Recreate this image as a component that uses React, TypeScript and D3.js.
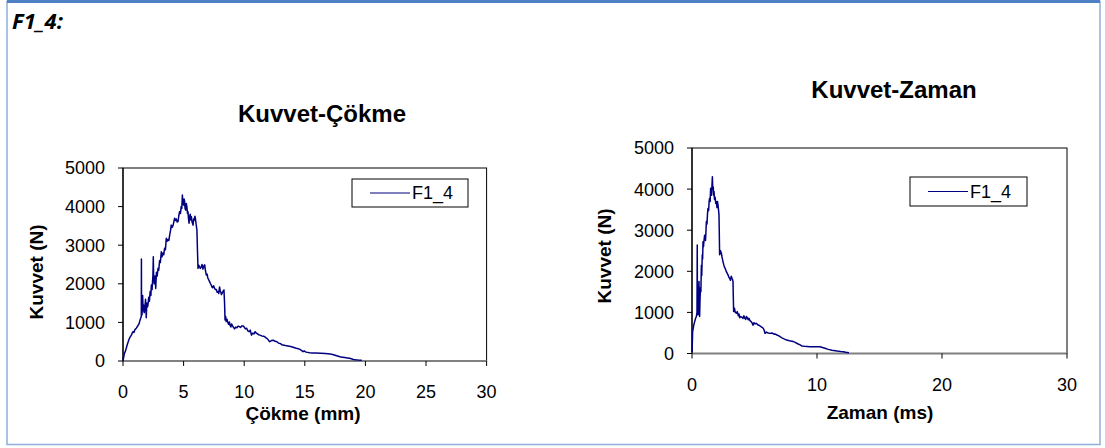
import React from 'react';
import * as d3 from 'd3';

// Kuvvet-Çökme (displacement mm, force N)
const cokmeMm = [0, 0.1, 0.2, 0.27, 0.35, 0.45, 0.55, 0.69, 0.75, 0.83, 0.9, 1.0, 1.1, 1.2, 1.25, 1.32, 1.37, 1.45, 1.51, 1.52, 1.53, 1.57, 1.62, 1.66, 1.7, 1.75, 1.8, 1.86, 1.92, 1.96, 2.02, 2.06, 2.12, 2.18, 2.24, 2.3, 2.34, 2.4, 2.47, 2.5, 2.53, 2.58, 2.64, 2.7, 2.76, 2.82, 2.89, 2.95, 3.02, 3.08, 3.16, 3.22, 3.3, 3.36, 3.43, 3.5, 3.57, 3.63, 3.7, 3.78, 3.85, 3.92, 3.98, 4.05, 4.12, 4.19, 4.26, 4.33, 4.4, 4.47, 4.54, 4.6, 4.67, 4.74, 4.8, 4.85, 4.9, 4.94, 5.0, 5.04, 5.08, 5.12, 5.17, 5.22, 5.27, 5.32, 5.36, 5.4, 5.45, 5.5, 5.55, 5.6, 5.64, 5.7, 5.78, 5.83, 5.88, 5.93, 5.97, 6.03, 6.1, 6.15, 6.19, 6.25, 6.3, 6.38, 6.46, 6.52, 6.6, 6.67, 6.74, 6.8, 6.87, 6.94, 7.0, 7.08, 7.15, 7.22, 7.28, 7.34, 7.4, 7.48, 7.56, 7.62, 7.7, 7.77, 7.84, 7.9, 7.97, 8.03, 8.08, 8.12, 8.17, 8.25, 8.33, 8.38, 8.42, 8.47, 8.52, 8.58, 8.65, 8.72, 8.78, 8.83, 8.9, 8.96, 9.05, 9.12, 9.2, 9.3, 9.4, 9.5, 9.6, 9.7, 9.8, 9.93, 10.0, 10.1, 10.2, 10.3, 10.4, 10.5, 10.6, 10.7, 10.8, 10.9, 11.0, 11.1, 11.2, 11.3, 11.45, 11.6, 11.7, 11.8, 11.9, 12.0, 12.1, 12.25, 12.4, 12.55, 12.7, 12.85, 13.0, 13.1, 13.2, 13.4, 13.6, 13.75, 13.9, 14.1, 14.3, 14.45, 14.6, 14.75, 14.85, 14.95, 15.1, 15.4, 15.6, 15.9, 16.3, 16.7, 17.1, 17.3, 17.5, 17.7, 17.9, 18.1, 18.3, 18.5, 18.7, 18.9, 19.0, 19.2, 19.4, 19.7];
const cokmeKuvvet = [0, 180, 260, 330, 420, 520, 600, 670, 720, 760, 740, 820, 850, 900, 930, 960, 1020, 1100, 1150, 2640, 1400, 1200, 1700, 1300, 1450, 1250, 1350, 1600, 1120, 1500, 1400, 1450, 1650, 1550, 1800, 1700, 1970, 1850, 2230, 2700, 2150, 2000, 2200, 1880, 2300, 2200, 2400, 2350, 2600, 2550, 2830, 2700, 2800, 2750, 2920, 2880, 3180, 3100, 3150, 3120, 3260, 3380, 3520, 3460, 3500, 3600, 3700, 3640, 3680, 3600, 3610, 3750, 3870, 3820, 4000, 3950, 4300, 4100, 4040, 4200, 4150, 3950, 3910, 4080, 4000, 3820, 3870, 3700, 3570, 3750, 3800, 3650, 3740, 3600, 3520, 3680, 3650, 3750, 3700, 3550, 3390, 2800, 2400, 2480, 2450, 2400, 2440, 2500, 2380, 2460, 2490, 2350, 2230, 2250, 2150, 2100, 2050, 2000, 1970, 1920, 1900, 1950, 1880, 1850, 1850, 1780, 1800, 1750, 1920, 1800, 1780, 1720, 1750, 1800, 1840, 1500, 1060, 1150, 1020, 1080, 1000, 950, 1010, 930, 880, 960, 900, 870, 830, 880, 860, 905, 890, 870, 910, 905, 880, 830, 850, 780, 760, 800, 670, 720, 700, 760, 720, 700, 680, 670, 650, 640, 630, 600, 580, 540, 500, 530, 540, 510, 500, 460, 450, 420, 415, 400, 390, 380, 370, 350, 330, 320, 300, 270, 240, 260, 230, 215, 210, 205, 200, 195, 180, 170, 150, 130, 110, 100, 90, 80, 70, 50, 40, 30, 25, 20];

// Kuvvet-Zaman (time ms, force N)
const zamanMs = [0, 0.03, 0.05, 0.1, 0.15, 0.21, 0.28, 0.35, 0.4, 0.42, 0.43, 0.46, 0.48, 0.52, 0.56, 0.58, 0.61, 0.64, 0.68, 0.71, 0.75, 0.78, 0.82, 0.85, 0.88, 0.92, 0.96, 1.01, 1.05, 1.08, 1.12, 1.15, 1.2, 1.24, 1.28, 1.33, 1.37, 1.41, 1.45, 1.49, 1.52, 1.56, 1.6, 1.63, 1.66, 1.7, 1.73, 1.76, 1.8, 1.85, 1.9, 1.95, 2.0, 2.04, 2.08, 2.12, 2.16, 2.19, 2.21, 2.28, 2.35, 2.4, 2.48, 2.55, 2.6, 2.68, 2.75, 2.82, 2.9, 2.96, 3.01, 3.08, 3.14, 3.2, 3.25, 3.28, 3.31, 3.33, 3.4, 3.46, 3.55, 3.62, 3.7, 3.76, 3.81, 3.9, 4.0, 4.08, 4.15, 4.22, 4.3, 4.35, 4.42, 4.5, 4.55, 4.61, 4.7, 4.78, 4.88, 4.95, 5.05, 5.15, 5.25, 5.4, 5.55, 5.7, 5.78, 5.84, 5.95, 6.1, 6.24, 6.4, 6.55, 6.64, 6.8, 6.95, 7.04, 7.2, 7.4, 7.57, 7.8, 8.0, 8.1, 8.25, 8.38, 8.5, 8.65, 8.78, 9.0, 9.2, 9.44, 9.8, 10.24, 10.5, 10.7, 10.9, 11.2, 11.6, 11.9, 12.1, 12.3, 12.56];
const zamanKuvvet = [40, 300, 530, 620, 700, 770, 850, 900, 1000, 2640, 1500, 1100, 940, 1300, 1750, 1200, 900, 1300, 1600, 1500, 2150, 1900, 2400, 2300, 2720, 2600, 2750, 2880, 2800, 2750, 3000, 3210, 3150, 3400, 3530, 3480, 3700, 3780, 3700, 4020, 3900, 3850, 4100, 4300, 4000, 4050, 3850, 3940, 3750, 3800, 3650, 3690, 3550, 3700, 3610, 3500, 3370, 2800, 2400, 2500, 2440, 2350, 2230, 2150, 2100, 2050, 1990, 1950, 1900, 1850, 1830, 1780, 1880, 1830, 1800, 1750, 1300, 1020, 1100, 1000, 980, 1020, 920, 960, 870, 900, 880, 855, 920, 860, 830, 900, 870, 820, 860, 815, 780, 760, 690, 750, 720, 735, 700, 680, 650, 615, 560, 490, 520, 500, 490, 500, 470, 475, 450, 430, 410, 380, 350, 330, 310, 300, 290, 270, 250, 230, 210, 185, 175, 170, 165, 165, 165, 140, 120, 100, 80, 60, 50, 45, 30, 20];

const yTicks = [0, 1000, 2000, 3000, 4000, 5000];
const cokmeTicks = [0, 5, 10, 15, 20, 25, 30];
const zamanTicks = [0, 10, 20, 30];
const seriesName = 'F1_4';

const FONT = '"Liberation Sans", Arial, sans-serif';
const LINE = '#000080';

type ChartProps = {
  xs: number[];
  ys: number[];
  xTicks: number[];
  left: number;
  right: number;
  top: number;
  bottom: number;
  title: string;
  titleX: number;
  titleY: number;
  xLabel: string;
  xLabelX: number;
  xLabelY: number;
  yLabelX: number;
  yLabelY: number;
  xTickY: number;
  yTickGap: number;
  legend: { x: number; y: number; w: number; h: number };
};

function Chart(p: ChartProps) {
  const x = d3.scaleLinear().domain([0, 30]).range([p.left, p.right]);
  const y = d3.scaleLinear().domain([0, 5000]).range([p.bottom, p.top]);
  const pts: [number, number][] = p.xs.map((v, i) => [v, p.ys[i]]);
  const line = d3.line<[number, number]>().x(d => x(d[0])).y(d => y(d[1]));

  return (
    <g fontFamily={FONT}>
      <text x={p.titleX} y={p.titleY} textAnchor="middle" fontSize={24} fontWeight="bold">{p.title}</text>
      {/* plot frame */}
      <rect x={p.left} y={p.top} width={p.right - p.left} height={p.bottom - p.top} fill="none" stroke="#000" strokeWidth={1} />
      <line x1={p.left} x2={p.right} y1={p.bottom} y2={p.bottom} stroke="#808080" strokeWidth={2} />
      <line x1={p.left} x2={p.left} y1={p.top} y2={p.bottom} stroke="#000" strokeWidth={1.2} />
      {yTicks.map(t => (
        <g key={'y' + t}>
          <line x1={p.left - 5} x2={p.left} y1={y(t)} y2={y(t)} stroke="#000" />
          <text x={p.left - p.yTickGap} y={y(t)} dy="0.36em" textAnchor="end" fontSize={18}>{t}</text>
        </g>
      ))}
      {p.xTicks.map(t => (
        <g key={'x' + t}>
          <line x1={x(t)} x2={x(t)} y1={p.bottom} y2={p.bottom + 5} stroke="#000" />
          <text x={x(t)} y={p.xTickY} dy="0.36em" textAnchor="middle" fontSize={18}>{t}</text>
        </g>
      ))}
      <path d={line(pts) || ''} fill="none" stroke={LINE} strokeWidth={1.5} strokeLinejoin="round" />
      <text x={p.xLabelX} y={p.xLabelY} textAnchor="middle" fontSize={19} fontWeight="bold">{p.xLabel}</text>
      <text transform={`translate(${p.yLabelX},${p.yLabelY}) rotate(-90)`} textAnchor="middle" dy="0.36em" fontSize={19} fontWeight="bold">Kuvvet (N)</text>
      <g>
        <rect x={p.legend.x} y={p.legend.y} width={p.legend.w} height={p.legend.h} fill="#fff" stroke="#000" />
        <line x1={p.legend.x + 18} x2={p.legend.x + 58} y1={p.legend.y + p.legend.h / 2} y2={p.legend.y + p.legend.h / 2} stroke={LINE} strokeWidth={1.2} />
        <text x={p.legend.x + 60} y={p.legend.y + p.legend.h / 2} dy="0.36em" fontSize={18}>{seriesName}</text>
      </g>
    </g>
  );
}

export default function App() {
  return (
    <div style={{ position: 'absolute', left: 0, top: 0 }}>
      <svg width={1105} height={448} style={{ display: 'block', background: '#fff' }}>
        <rect x={7} y={1.5} width={1093} height={443} fill="#fff" stroke="#8fb0dc" strokeWidth={1.5} />
        <line x1={7} x2={1100} y1={1.5} y2={1.5} stroke="#4f7fc4" strokeWidth={3} />
        <text x={12} y={29} fontFamily='"Open Sans", Lato, sans-serif' fontSize={22} fontWeight="bold" fontStyle="italic">F1_4:</text>
        <Chart
          xs={cokmeMm} ys={cokmeKuvvet} xTicks={cokmeTicks}
          left={123} right={486.6} top={168} bottom={361}
          title="Kuvvet-Çökme" titleX={322} titleY={122}
          xLabel="Çökme (mm)" xLabelX={303} xLabelY={420}
          yLabelX={36} yLabelY={272} xTickY={392} yTickGap={18}
          legend={{ x: 352, y: 179, w: 116, h: 28 }}
        />
        <Chart
          xs={zamanMs} ys={zamanKuvvet} xTicks={zamanTicks}
          left={692} right={1067} top={148} bottom={353.5}
          title="Kuvvet-Zaman" titleX={894} titleY={98}
          xLabel="Zaman (ms)" xLabelX={880} xLabelY={419}
          yLabelX={604} yLabelY={256} xTickY={385} yTickGap={18}
          legend={{ x: 910, y: 177, w: 117, h: 29 }}
        />
      </svg>
    </div>
  );
}
